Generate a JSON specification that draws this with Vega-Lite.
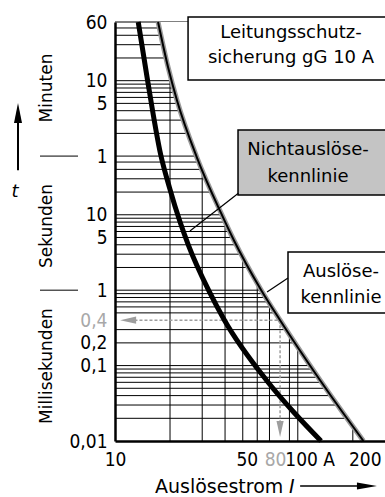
{
  "$schema": "https://vega.github.io/schema/vega-lite/v6.json",
  "width": 270,
  "height": 419,
  "autosize": {"type": "none"},
  "padding": {"left": 115, "top": 22, "right": 0, "bottom": 56},
  "background": "white",
  "config": {
    "view": {"stroke": null},
    "font": "DejaVu Sans",
    "text": {"font": "DejaVu Sans", "fontSize": 18, "color": "black"}
  },
  "datasets": {
    "grid_t": [
      {"t": 3600}, {"t": 3000}, {"t": 2400}, {"t": 1800}, {"t": 1200},
      {"t": 600}, {"t": 540}, {"t": 480}, {"t": 420}, {"t": 360}, {"t": 300}, {"t": 240}, {"t": 180}, {"t": 120},
      {"t": 60}, {"t": 50}, {"t": 40}, {"t": 30}, {"t": 20},
      {"t": 10}, {"t": 9}, {"t": 8}, {"t": 7}, {"t": 6}, {"t": 5}, {"t": 4}, {"t": 3}, {"t": 2},
      {"t": 1}, {"t": 0.9}, {"t": 0.8}, {"t": 0.7}, {"t": 0.6}, {"t": 0.5}, {"t": 0.3}, {"t": 0.2},
      {"t": 0.1}, {"t": 0.09}, {"t": 0.08}, {"t": 0.07}, {"t": 0.06}, {"t": 0.05}, {"t": 0.04}, {"t": 0.03}, {"t": 0.02}
    ],
    "grid_I": [
      {"I": 20}, {"I": 30}, {"I": 40}, {"I": 50}, {"I": 60}, {"I": 70}, {"I": 90}, {"I": 100}, {"I": 200}
    ],
    "nicht": [
      {"I": 13.4, "t": 3600}, {"I": 15.0, "t": 651}, {"I": 17.8, "t": 62}, {"I": 19.9, "t": 22.6},
      {"I": 22.7, "t": 8.0}, {"I": 25.2, "t": 3.97}, {"I": 32.5, "t": 1.0}, {"I": 39.7, "t": 0.4},
      {"I": 67.4, "t": 0.064}, {"I": 95.9, "t": 0.0235}, {"I": 134, "t": 0.01}
    ],
    "ausl": [
      {"I": 17.2, "t": 3600}, {"I": 19.5, "t": 912}, {"I": 21.8, "t": 333}, {"I": 28.0, "t": 58.3},
      {"I": 38.0, "t": 10.6}, {"I": 44.7, "t": 4.6}, {"I": 63.1, "t": 1.0}, {"I": 80, "t": 0.4},
      {"I": 132.4, "t": 0.064}, {"I": 177, "t": 0.0235}, {"I": 228.6, "t": 0.01}
    ]
  },
  "layer": [
    {
      "data": {"name": "grid_t"},
      "mark": {"type": "rule", "color": "black", "strokeWidth": 1},
      "encoding": {
        "y": {
          "field": "t", "type": "quantitative", "title": null,
          "scale": {"type": "log", "domain": [0.01, 3600], "nice": false},
          "axis": {
            "values": [3600, 600, 300, 60, 10, 5, 1, 0.4, 0.2, 0.1, 0.01],
            "labelExpr": "datum.value >= 60 ? format(datum.value / 60, 'd') : (datum.value >= 1 ? format(datum.value, 'd') : replace(format(datum.value, '.2~f'), '.', ','))",
            "title": null, "grid": false, "ticks": false,
            "domainColor": "black", "domainWidth": 2.5,
            "labelFont": "DejaVu Sans Condensed", "labelFontSize": 19,
            "labelColor": {"condition": {"test": "datum.value == 0.4", "value": "#a8a8a8"}, "value": "black"},
            "labelPadding": 8, "labelOverlap": false, "labelBound": false, "zindex": 1
          }
        },
        "x": {
          "datum": 10, "type": "quantitative",
          "scale": {"type": "log", "domain": [10, 300], "nice": false},
          "axis": {
            "values": [10, 50, 80, 100, 200],
            "labelExpr": "datum.value == 100 ? '100 A' : format(datum.value, 'd')",
            "title": null, "grid": false, "ticks": false,
            "domainColor": "black", "domainWidth": 2.5,
            "labelFont": "DejaVu Sans Condensed", "labelFontSize": 19,
            "labelColor": {"condition": {"test": "datum.value == 80", "value": "#a8a8a8"}, "value": "black"},
            "labelAlign": {"condition": {"test": "datum.value == 100", "value": "left"}, "value": "center"},
            "labelOffset": {"condition": [
              {"test": "datum.value == 100", "value": -13},
              {"test": "datum.value == 200", "value": 12},
              {"test": "datum.value == 80", "value": -5},
              {"test": "datum.value == 50", "value": 4}
            ], "value": 0},
            "labelPadding": 9, "labelOverlap": false, "labelBound": false, "labelFlush": false, "zindex": 1
          }
        },
        "x2": {"datum": 400}
      }
    },
    {
      "data": {"name": "grid_I"},
      "mark": {"type": "rule", "color": "black", "strokeWidth": 1},
      "encoding": {
        "x": {"field": "I", "type": "quantitative", "title": null},
        "y": {"datum": 0.01},
        "y2": {"datum": 3600}
      }
    },
    {
      "data": {"name": "ausl"},
      "mark": {"type": "area", "orient": "horizontal", "color": "white", "opacity": 1, "interpolate": "monotone"},
      "encoding": {
        "y": {"field": "t", "type": "quantitative", "title": null},
        "x": {"field": "I", "type": "quantitative", "title": null},
        "x2": {"datum": 400}
      }
    },
    {
      "data": {"values": [{}]},
      "mark": {"type": "rule", "color": "#9e9e9e", "strokeWidth": 1.5, "strokeDash": [3, 2]},
      "encoding": {"x": {"datum": 12}, "x2": {"datum": 80}, "y": {"datum": 0.4}}
    },
    {
      "data": {"values": [{}]},
      "mark": {"type": "rule", "color": "#9e9e9e", "strokeWidth": 1.5, "strokeDash": [3, 2]},
      "encoding": {"x": {"datum": 80}, "y": {"datum": 0.4}, "y2": {"datum": 0.0184}}
    },
    {
      "data": {"values": [{}]},
      "mark": {"type": "point", "shape": "M-1,0L1,-0.45L1,0.45Z", "size": 256, "filled": true, "color": "#9e9e9e", "opacity": 1},
      "encoding": {"x": {"datum": 11.8}, "y": {"datum": 0.4}}
    },
    {
      "data": {"values": [{}]},
      "mark": {"type": "point", "shape": "M0,1L-0.45,-1L0.45,-1Z", "size": 256, "filled": true, "color": "#9e9e9e", "opacity": 1},
      "encoding": {"x": {"datum": 80}, "y": {"datum": 0.0144}}
    },
    {
      "data": {"name": "ausl"},
      "mark": {"type": "line", "color": "#9a9a9a", "strokeWidth": 5, "interpolate": "monotone"},
      "encoding": {
        "x": {"field": "I", "type": "quantitative", "title": null},
        "y": {"field": "t", "type": "quantitative", "title": null}
      }
    },
    {
      "data": {"name": "ausl"},
      "mark": {"type": "line", "color": "black", "strokeWidth": 2, "interpolate": "monotone"},
      "encoding": {
        "x": {"field": "I", "type": "quantitative", "title": null},
        "y": {"field": "t", "type": "quantitative", "title": null}
      }
    },
    {
      "data": {"name": "nicht"},
      "mark": {"type": "line", "color": "black", "strokeWidth": 5, "interpolate": "monotone"},
      "encoding": {
        "x": {"field": "I", "type": "quantitative", "title": null},
        "y": {"field": "t", "type": "quantitative", "title": null}
      }
    },
    {
      "data": {"values": [{}]},
      "mark": {"type": "rect", "fill": "white", "stroke": "black", "strokeWidth": 1.5},
      "encoding": {"x": {"datum": 25.1}, "x2": {"datum": 400}, "y": {"datum": 4193}, "y2": {"datum": 612}}
    },
    {
      "data": {"values": [{}]},
      "mark": {"type": "rect", "fill": "#c4c4c4", "stroke": "black", "strokeWidth": 1.5},
      "encoding": {"x": {"datum": 47.1}, "x2": {"datum": 400}, "y": {"datum": 133}, "y2": {"datum": 18.3}}
    },
    {
      "data": {"values": [{}]},
      "mark": {"type": "rect", "fill": "white", "stroke": "black", "strokeWidth": 1.5},
      "encoding": {"x": {"datum": 88.4}, "x2": {"datum": 400}, "y": {"datum": 3.2}, "y2": {"datum": 0.498}}
    },
    {
      "data": {"values": [{}]},
      "mark": {"type": "rule", "color": "black", "strokeWidth": 1.2},
      "encoding": {"x": {"datum": 47.3}, "y": {"datum": 19.3}, "x2": {"datum": 25.7}, "y2": {"datum": 6.1}}
    },
    {
      "data": {"values": [{}]},
      "mark": {"type": "rule", "color": "black", "strokeWidth": 1.2},
      "encoding": {"x": {"datum": 88.4}, "y": {"datum": 1.45}, "x2": {"datum": 67.9}, "y2": {"datum": 0.946}}
    },
    {
      "data": {"values": [{}]},
      "mark": {"type": "text", "align": "center", "baseline": "middle", "lineHeight": 25, "fontSize": 18, "text": ["Leitungsschutz-", "sicherung gG 10 A"]},
      "encoding": {"x": {"datum": 91.8}, "y": {"datum": 2573}}
    },
    {
      "data": {"values": [{}]},
      "mark": {"type": "text", "align": "center", "baseline": "middle", "lineHeight": 27, "fontSize": 18, "text": ["Nichtauslöse-", "kennlinie"]},
      "encoding": {"x": {"datum": 113.7}, "y": {"datum": 72.3}}
    },
    {
      "data": {"values": [{}]},
      "mark": {"type": "text", "align": "center", "baseline": "middle", "lineHeight": 26, "fontSize": 18, "text": ["Auslöse-", "kennlinie"]},
      "encoding": {"x": {"datum": 172.3}, "y": {"datum": 1.74}}
    },
    {
      "data": {"values": [{}]},
      "mark": {"type": "text", "align": "center", "baseline": "middle", "angle": 270, "fontSize": 17, "text": "Minuten", "xOffset": -68},
      "encoding": {"x": {"datum": 10}, "y": {"datum": 480}}
    },
    {
      "data": {"values": [{}]},
      "mark": {"type": "text", "align": "center", "baseline": "middle", "angle": 270, "fontSize": 17, "text": "Sekunden", "xOffset": -68},
      "encoding": {"x": {"datum": 10}, "y": {"datum": 7.1}}
    },
    {
      "data": {"values": [{}]},
      "mark": {"type": "text", "align": "center", "baseline": "middle", "angle": 270, "fontSize": 17, "text": "Millisekunden", "xOffset": -68},
      "encoding": {"x": {"datum": 10}, "y": {"datum": 0.0988}}
    },
    {
      "data": {"values": [{}]},
      "mark": {"type": "rule", "color": "black", "strokeWidth": 1, "xOffset": -75, "x2Offset": -37},
      "encoding": {"x": {"datum": 10}, "x2": {"datum": 10}, "y": {"datum": 60}}
    },
    {
      "data": {"values": [{}]},
      "mark": {"type": "rule", "color": "black", "strokeWidth": 1, "xOffset": -75, "x2Offset": -37},
      "encoding": {"x": {"datum": 10}, "x2": {"datum": 10}, "y": {"datum": 1}}
    },
    {
      "data": {"values": [{}]},
      "mark": {"type": "rule", "color": "black", "strokeWidth": 2, "xOffset": -97},
      "encoding": {"x": {"datum": 10}, "y": {"datum": 39}, "y2": {"datum": 181}}
    },
    {
      "data": {"values": [{}]},
      "mark": {"type": "point", "shape": "M0,-1L-0.4,1L0.4,1Z", "size": 400, "filled": true, "color": "black", "opacity": 1, "xOffset": -97},
      "encoding": {"x": {"datum": 10}, "y": {"datum": 224}}
    },
    {
      "data": {"values": [{}]},
      "mark": {"type": "text", "align": "center", "baseline": "middle", "fontStyle": "italic", "fontSize": 18, "text": "t", "xOffset": -100},
      "encoding": {"x": {"datum": 10}, "y": {"datum": 20}}
    },
    {
      "data": {"values": [{}]},
      "mark": {"type": "text", "align": "left", "baseline": "alphabetic", "fontSize": 19, "text": "Auslösestrom", "yOffset": 52},
      "encoding": {"x": {"datum": 16.55}, "y": {"datum": 0.01}}
    },
    {
      "data": {"values": [{}]},
      "mark": {"type": "text", "align": "left", "baseline": "alphabetic", "fontSize": 19, "fontStyle": "italic", "text": "I", "yOffset": 52},
      "encoding": {"x": {"datum": 89.6}, "y": {"datum": 0.01}}
    },
    {
      "data": {"values": [{}]},
      "mark": {"type": "rule", "color": "black", "strokeWidth": 1.5, "yOffset": 45, "y2Offset": 45},
      "encoding": {"x": {"datum": 103}, "x2": {"datum": 225}, "y": {"datum": 0.01}}
    },
    {
      "data": {"values": [{}]},
      "mark": {"type": "point", "shape": "M1,0L-1,-0.35L-1,0.35Z", "size": 400, "filled": true, "color": "black", "opacity": 1, "yOffset": 45},
      "encoding": {"x": {"datum": 239}, "y": {"datum": 0.01}}
    }
  ]
}
